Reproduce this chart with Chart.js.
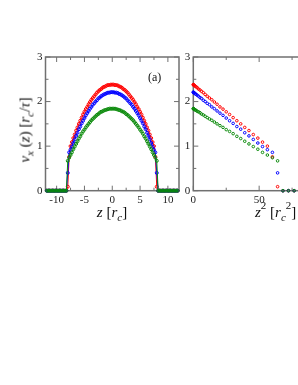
<!DOCTYPE html>
<html>
<head>
<meta charset="utf-8">
<script src="https://cdn.jsdelivr.net/npm/chart.js@4.4.1/dist/chart.umd.min.js"></script>
<style>
  body { margin: 0; background: #fff; overflow: hidden; }
  #wrap { position: relative; width: 298px; height: 385px; overflow: hidden; }
  canvas { position: absolute; top: 0; }
  .lbl { position: absolute; font-family: "Liberation Serif", serif; color: #111; white-space: nowrap; line-height: 1; }
  .lbl i { font-style: italic; }
  .sub { font-size: 11px; position: relative; top: 4px; }
  .sup { font-size: 11px; position: relative; top: -8px; }
</style>
</head>
<body>
<div id="wrap">
  <canvas id="profileChart" width="184" height="230" style="left:0"></canvas>
  <canvas id="squareChart" width="150" height="230" style="left:180px"></canvas>
  <div class="lbl" style="left:25px; top:130px; font-size:15px; transform:translate(-50%,-50%) rotate(-90deg);">
    <i>v</i><span class="sub"><i>x</i></span> (<i>z</i>) [<i>r</i><span class="sub"><i>c</i></span>/<i>τ</i>]
  </div>
  <div class="lbl" style="left:112px; top:205px; font-size:15px; transform:translateX(-50%);">
    <i>z</i> [<i>r</i><span class="sub"><i>c</i></span>]
  </div>
  <div class="lbl" style="left:255px; top:205px; font-size:15px;">
    <i>z</i><span class="sup">2</span> [<i>r</i><span class="sub"><i>c</i></span><span class="sup">2</span>]
  </div>
  <div class="lbl" style="left:148px; top:71px; font-size:12px;">(a)</div>
</div>
<script>
// positions across the channel, z [r_c]
var zValues = [
  -11.75, -11.5, -11.25, -11, -10.75, -10.5, -10.25, -10, -9.75, -9.5, -9.25, -9, -8.75, -8.5, -8.25,
  -8, -7.75, -7.5, -7.25, -7, -6.75, -6.5, -6.25, -6, -5.75, -5.5, -5.25, -5, -4.75, -4.5, -4.25,
  -4, -3.75, -3.5, -3.25, -3, -2.75, -2.5, -2.25, -2, -1.75, -1.5, -1.25, -1, -0.75, -0.5, -0.25,
  0,
  0.25, 0.5, 0.75, 1, 1.25, 1.5, 1.75, 2, 2.25, 2.5, 2.75, 3, 3.25, 3.5, 3.75, 4,
  4.25, 4.5, 4.75, 5, 5.25, 5.5, 5.75, 6, 6.25, 6.5, 6.75, 7, 7.25, 7.5, 7.75, 8,
  8.25, 8.5, 8.75, 9, 9.25, 9.5, 9.75, 10, 10.25, 10.5, 10.75, 11, 11.25, 11.5, 11.75
];

var redSeries = [
  0, 0, 0, 0, 0, 0, 0, 0, 0, 0, 0, 0, 0, 0, 0,
  0.09, 0.76, 1.00, 1.09, 1.18, 1.26, 1.35, 1.42, 1.50, 1.57, 1.64, 1.71, 1.77, 1.83, 1.88, 1.94,
  1.99, 2.04, 2.08, 2.12, 2.16, 2.20, 2.23, 2.26, 2.28, 2.31, 2.33, 2.34, 2.36, 2.37, 2.37, 2.38,
  2.38,
  2.38, 2.37, 2.37, 2.36, 2.34, 2.33, 2.31, 2.28, 2.26, 2.23, 2.20, 2.16, 2.12, 2.08, 2.04, 1.99,
  1.94, 1.88, 1.83, 1.77, 1.71, 1.64, 1.57, 1.50, 1.42, 1.35, 1.26, 1.18, 1.09, 1.00, 0.76, 0.09,
  0, 0, 0, 0, 0, 0, 0, 0, 0, 0, 0, 0, 0, 0, 0
];

var blueSeries = [
  0, 0, 0, 0, 0, 0, 0, 0, 0, 0, 0, 0, 0, 0, 0,
  0.40, 0.86, 0.92, 0.99, 1.07, 1.15, 1.23, 1.30, 1.38, 1.44, 1.51, 1.57, 1.63, 1.69, 1.74, 1.79,
  1.84, 1.88, 1.93, 1.96, 2.00, 2.03, 2.07, 2.09, 2.12, 2.14, 2.16, 2.17, 2.19, 2.20, 2.20, 2.21,
  2.21,
  2.21, 2.20, 2.20, 2.19, 2.17, 2.16, 2.14, 2.12, 2.09, 2.07, 2.03, 2.00, 1.96, 1.93, 1.88, 1.84,
  1.79, 1.74, 1.69, 1.63, 1.57, 1.51, 1.44, 1.38, 1.30, 1.23, 1.15, 1.07, 0.99, 0.92, 0.86, 0.40,
  0, 0, 0, 0, 0, 0, 0, 0, 0, 0, 0, 0, 0, 0, 0
];

var greenSeries = [
  0, 0, 0, 0, 0, 0, 0, 0, 0, 0, 0, 0, 0, 0, 0,
  0.67, 0.74, 0.80, 0.86, 0.93, 0.99, 1.05, 1.11, 1.17, 1.22, 1.28, 1.33, 1.37, 1.42, 1.46, 1.50,
  1.54, 1.58, 1.61, 1.64, 1.67, 1.70, 1.72, 1.75, 1.77, 1.78, 1.80, 1.81, 1.82, 1.83, 1.84, 1.84,
  1.84,
  1.84, 1.84, 1.83, 1.82, 1.81, 1.80, 1.78, 1.77, 1.75, 1.72, 1.70, 1.67, 1.64, 1.61, 1.58, 1.54,
  1.50, 1.46, 1.42, 1.37, 1.33, 1.28, 1.22, 1.17, 1.11, 1.05, 0.99, 0.93, 0.86, 0.80, 0.74, 0.67,
  0, 0, 0, 0, 0, 0, 0, 0, 0, 0, 0, 0, 0, 0, 0
];

// tick labels
var leftXTicks = [-10, -5, 0, 5, 10];
var leftXMinor = [-7.5, -2.5, 2.5, 7.5];
var yTicks = [0, 1, 2, 3];
var yMinor = [0.5, 1.5, 2.5];
var rightXTicks = [0, 50];
var rightXMajor = [0, 50, 100];
var rightXMinor = [25, 75];

var seriesColors = ['#ff0000', '#0000ff', '#0a8a0a'];
var tickFont = { family: 'Liberation Serif', size: 11 };

// box with inward ticks, like the original plotting program
var framePlugin = {
    id: 'frame',
    beforeDatasetsDraw: function (chart, args, opts) {
        var ctx = chart.ctx, a = chart.chartArea;
        var x = chart.scales.x, y = chart.scales.y;
        ctx.save();
        ctx.strokeStyle = '#707070';
        ctx.lineWidth = 1.5;
        ctx.strokeRect(a.left, a.top, a.right - a.left, a.bottom - a.top);
        ctx.lineWidth = 1;
        ctx.beginPath();
        function xTick(v, len) {
            var px = x.getPixelForValue(v);
            ctx.moveTo(px, a.bottom); ctx.lineTo(px, a.bottom - len);
            ctx.moveTo(px, a.top); ctx.lineTo(px, a.top + len);
        }
        function yTick(v, len) {
            var py = y.getPixelForValue(v);
            ctx.moveTo(a.left, py); ctx.lineTo(a.left + len, py);
            ctx.moveTo(a.right, py); ctx.lineTo(a.right - len, py);
        }
        opts.xMajor.forEach(function (v) { xTick(v, 5); });
        opts.xMinor.forEach(function (v) { xTick(v, 3); });
        yTicks.forEach(function (v) { yTick(v, 5); });
        yMinor.forEach(function (v) { yTick(v, 3); });
        ctx.stroke();
        ctx.restore();
    }
};

function makeDataset(values, color, order, asSquare) {
    var pts = [];
    zValues.forEach(function (z, i) {
        if (!asSquare) {
            pts.push({ x: z, y: values[i] });
        } else if (z >= 0 && z * z <= 100) {
            pts.push({ x: z * z, y: values[i] });
        }
    });
    return {
        data: pts,
        borderColor: color,
        backgroundColor: color,
        borderWidth: 1,
        pointRadius: asSquare ? 1.3 : 1.5,
        pointBorderWidth: 1,
        pointBackgroundColor: 'rgba(255,255,255,0)',
        pointBorderColor: color,
        showLine: !asSquare,
        order: order,
        clip: 4
    };
}

function axisOptions(min, max, ticks, fitFn) {
    return {
        type: 'linear',
        min: min,
        max: max,
        afterBuildTicks: function (scale) {
            scale.ticks = ticks.map(function (v) { return { value: v }; });
        },
        afterFit: fitFn,
        grid: { display: false, drawTicks: false },
        border: { display: false },
        ticks: { font: tickFont, color: '#222', padding: 3, maxRotation: 0, autoSkip: false }
    };
}

var profileChart = new Chart(document.getElementById('profileChart'), {
    type: 'line',
    data: {
        datasets: [
            makeDataset(redSeries, seriesColors[0], 3, false),
            makeDataset(blueSeries, seriesColors[1], 2, false),
            makeDataset(greenSeries, seriesColors[2], 1, false)
        ]
    },
    options: {
        responsive: false,
        animation: false,
        layout: { padding: { top: 57, right: 5, left: 0, bottom: 0 } },
        plugins: {
            legend: { display: false },
            tooltip: { enabled: false },
            frame: { xMajor: leftXTicks, xMinor: leftXMinor }
        },
        scales: {
            x: axisOptions(-12, 12, leftXTicks, function (s) { s.height = 39.3; }),
            y: axisOptions(0, 3, yTicks, function (s) { s.width = 45.5; })
        }
    },
    plugins: [framePlugin]
});

var squareChart = new Chart(document.getElementById('squareChart'), {
    type: 'scatter',
    data: {
        datasets: [
            makeDataset(redSeries, seriesColors[0], 3, true),
            makeDataset(blueSeries, seriesColors[1], 2, true),
            makeDataset(greenSeries, seriesColors[2], 1, true)
        ]
    },
    options: {
        responsive: false,
        animation: false,
        layout: { padding: { top: 57, right: 0, left: 0, bottom: 0 } },
        plugins: {
            legend: { display: false },
            tooltip: { enabled: false },
            frame: { xMajor: rightXMajor, xMinor: rightXMinor }
        },
        scales: {
            x: axisOptions(0, 100, rightXTicks, function (s) { s.height = 39.3; }),
            y: axisOptions(0, 3, yTicks, function (s) { s.width = 13.3; })
        }
    },
    plugins: [framePlugin]
});
</script>
</body>
</html>
